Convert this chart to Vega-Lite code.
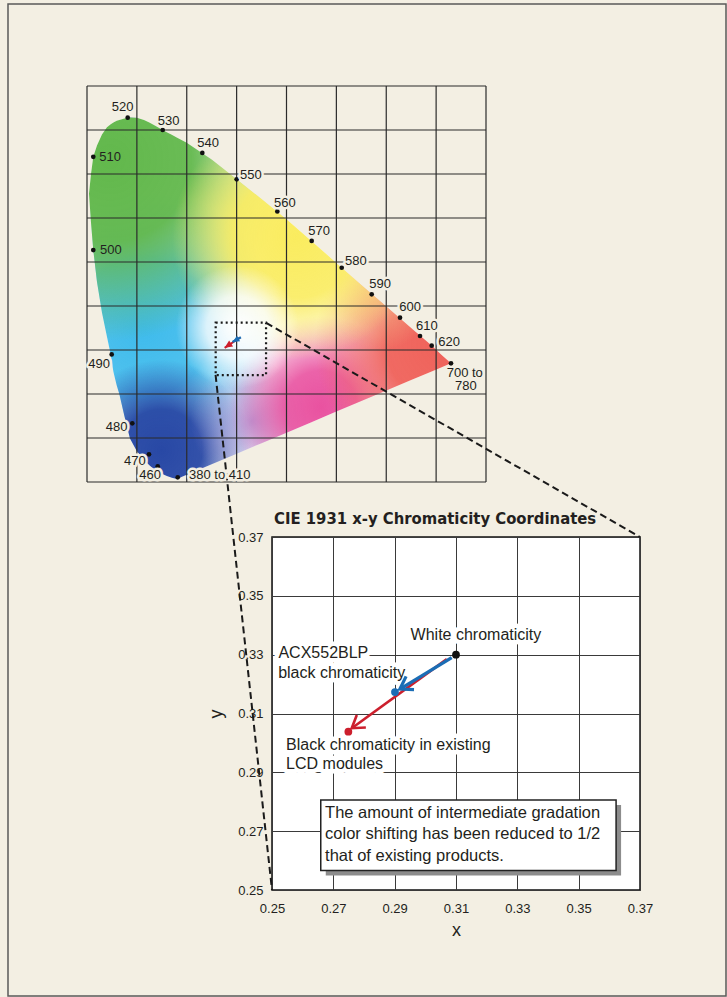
{
  "$schema": "https://vega.github.io/schema/vega-lite/v6.json",
  "width": 368,
  "height": 353,
  "autosize": {"type": "none"},
  "padding": {"left": 272, "top": 537, "right": 87, "bottom": 107},
  "background": "#f3efe3",
  "config": {
    "view": {"fill": "#ffffff", "stroke": "#111111", "strokeWidth": 1.5},
    "font": "Liberation Sans",
    "text": {"font": "Liberation Sans"}
  },
  "datasets": {
    "frame": [{"x": -0.1584, "x2": 1.2812, "y": -1.1682, "y2": 1.0864}],
    "locus": [
      {"x": 0.004, "lo": 0.655, "hi": 0.655},
      {"x": 0.008, "lo": 0.59, "hi": 0.7},
      {"x": 0.0126, "lo": 0.527, "hi": 0.739},
      {"x": 0.02, "lo": 0.455, "hi": 0.765},
      {"x": 0.03, "lo": 0.385, "hi": 0.79},
      {"x": 0.04, "lo": 0.33, "hi": 0.806},
      {"x": 0.0475, "lo": 0.29, "hi": 0.813},
      {"x": 0.053, "lo": 0.25, "hi": 0.817},
      {"x": 0.0595, "lo": 0.22, "hi": 0.821},
      {"x": 0.0648, "lo": 0.2, "hi": 0.823},
      {"x": 0.075, "lo": 0.15, "hi": 0.826},
      {"x": 0.0862, "lo": 0.099, "hi": 0.829},
      {"x": 0.1, "lo": 0.07, "hi": 0.828},
      {"x": 0.1143, "lo": 0.05, "hi": 0.823},
      {"x": 0.125, "lo": 0.038, "hi": 0.817},
      {"x": 0.136, "lo": 0.027, "hi": 0.81},
      {"x": 0.15, "lo": 0.019, "hi": 0.801},
      {"x": 0.16, "lo": 0.0136, "hi": 0.795},
      {"x": 0.17, "lo": 0.0095, "hi": 0.789},
      {"x": 0.18, "lo": 0.007, "hi": 0.783},
      {"x": 0.2, "lo": 0.0166, "hi": 0.771},
      {"x": 0.25, "lo": 0.0405, "hi": 0.733},
      {"x": 0.3, "lo": 0.0644, "hi": 0.688},
      {"x": 0.35, "lo": 0.0883, "hi": 0.643},
      {"x": 0.4, "lo": 0.1122, "hi": 0.597},
      {"x": 0.45, "lo": 0.136, "hi": 0.548},
      {"x": 0.5, "lo": 0.16, "hi": 0.498},
      {"x": 0.55, "lo": 0.184, "hi": 0.448},
      {"x": 0.6, "lo": 0.2078, "hi": 0.399},
      {"x": 0.65, "lo": 0.2317, "hi": 0.35},
      {"x": 0.6911, "lo": 0.2513, "hi": 0.31},
      {"x": 0.71, "lo": 0.2603, "hi": 0.29},
      {"x": 0.7298, "lo": 0.2698, "hi": 0.2698}
    ],
    "gridX": [{"gx": 0}, {"gx": 0.1}, {"gx": 0.2}, {"gx": 0.3}, {"gx": 0.4}, {"gx": 0.5}, {"gx": 0.6}, {"gx": 0.7}, {"gx": 0.8}],
    "gridY": [{"gy": 0}, {"gy": 0.1}, {"gy": 0.2}, {"gy": 0.3}, {"gy": 0.4}, {"gy": 0.5}, {"gy": 0.6}, {"gy": 0.7}, {"gy": 0.8}, {"gy": 0.9}],
    "dots": [
      {"nm": "520", "x": 0.0816, "y": 0.828},
      {"nm": "530", "x": 0.1518, "y": 0.8},
      {"nm": "540", "x": 0.2312, "y": 0.748},
      {"nm": "550", "x": 0.3001, "y": 0.688},
      {"nm": "560", "x": 0.3816, "y": 0.615},
      {"nm": "570", "x": 0.4505, "y": 0.548},
      {"nm": "580", "x": 0.5107, "y": 0.487},
      {"nm": "590", "x": 0.5708, "y": 0.4266},
      {"nm": "600", "x": 0.6276, "y": 0.3734},
      {"nm": "610", "x": 0.6677, "y": 0.3318},
      {"nm": "620", "x": 0.6911, "y": 0.3098},
      {"nm": "700", "x": 0.7298, "y": 0.2698},
      {"nm": "510", "x": 0.0126, "y": 0.739},
      {"nm": "500", "x": 0.0126, "y": 0.527},
      {"nm": "490", "x": 0.0495, "y": 0.29},
      {"nm": "480", "x": 0.0908, "y": 0.1334},
      {"nm": "470", "x": 0.1243, "y": 0.063},
      {"nm": "460", "x": 0.1418, "y": 0.0357},
      {"nm": "380", "x": 0.1819, "y": 0.0107}
    ],
    "labels": [
      {"text": "520", "lx": 0.0495, "ly": 0.8516},
      {"text": "530", "lx": 0.1418, "ly": 0.8211},
      {"text": "540", "lx": 0.2212, "ly": 0.7698},
      {"text": "510", "lx": 0.0247, "ly": 0.738},
      {"text": "550", "lx": 0.3068, "ly": 0.6984},
      {"text": "560", "lx": 0.3749, "ly": 0.6348},
      {"text": "570", "lx": 0.4437, "ly": 0.5711},
      {"text": "580", "lx": 0.5173, "ly": 0.503},
      {"text": "590", "lx": 0.566, "ly": 0.4493},
      {"text": "600", "lx": 0.6262, "ly": 0.397},
      {"text": "610", "lx": 0.6596, "ly": 0.3552},
      {"text": "620", "lx": 0.7044, "ly": 0.3189},
      {"text": "500", "lx": 0.0261, "ly": 0.5273},
      {"text": "490", "lx": 0.0026, "ly": 0.2682},
      {"text": "480", "lx": 0.0375, "ly": 0.1257},
      {"text": "470", "lx": 0.0742, "ly": 0.0484},
      {"text": "460", "lx": 0.1049, "ly": 0.0152},
      {"text": "380 to 410", "lx": 0.2045, "ly": 0.0152},
      {"text": "700 to", "lx": 0.7212, "ly": 0.248},
      {"text": "780", "lx": 0.7378, "ly": 0.2172}
    ],
    "zoomBox": [{"x": 0.258, "x2": 0.359, "y": 0.243, "y2": 0.362}],
    "arrows": [
      {"series": "existing", "x": 0.307, "y": 0.3285, "x2": 0.276, "y2": 0.305},
      {"series": "ACX552BLP", "x": 0.3086, "y": 0.329, "x2": 0.2917, "y2": 0.3183}
    ],
    "connectors": [
      {"x": 0.2316, "y": 0.4251, "x2": 0.25, "y2": 0.25},
      {"x": 0.2481, "y": 0.4428, "x2": 0.37, "y2": 0.37}
    ],
    "points": [
      {"name": "white", "x": 0.31, "y": 0.33},
      {"name": "ACX552BLP", "x": 0.2901, "y": 0.3173},
      {"name": "existing", "x": 0.2749, "y": 0.3038}
    ],
    "notes": [
      {"t": "White chromaticity", "x": 0.2952, "y": 0.3367},
      {"t": "ACX552BLP", "x": 0.2521, "y": 0.3305},
      {"t": "black chromaticity", "x": 0.252, "y": 0.3237},
      {"t": "Black chromaticity in existing", "x": 0.2546, "y": 0.2993},
      {"t": "LCD modules", "x": 0.2546, "y": 0.2928}
    ],
    "noteBox": [{"x": 0.2659, "x2": 0.3622, "y": 0.2806, "y2": 0.2566}],
    "boxText": [
      {"t": "The amount of intermediate gradation", "x": 0.2673, "y": 0.2761},
      {"t": "color shifting has been reduced to 1/2", "x": 0.2673, "y": 0.2689},
      {"t": "that of existing products.", "x": 0.2673, "y": 0.2616}
    ],
    "titleText": [{"t": "CIE 1931 x-y Chromaticity Coordinates"}]
  },
  "resolve": {"scale": {"x": "independent", "y": "independent"}},
  "layer": [
    {
      "layer": [
        {
          "data": {"name": "frame"},
          "mark": {"type": "rect", "filled": false, "stroke": "#5a5a5a", "strokeWidth": 1.5},
          "encoding": {
            "x": {"field": "x", "type": "quantitative", "scale": {"domain": [0, 0.8], "range": [-185, 214], "nice": false, "zero": false}, "axis": null},
            "x2": {"field": "x2"},
            "y": {"field": "y", "type": "quantitative", "scale": {"domain": [0, 0.9], "range": [-55, -451], "nice": false, "zero": false}, "axis": null},
            "y2": {"field": "y2"}
          }
        },
        {
          "data": {"name": "locus"},
          "mark": {"type": "area", "fill": "#ffffff"},
          "encoding": {"x": {"field": "x", "type": "quantitative"}, "y": {"field": "lo", "type": "quantitative"}, "y2": {"field": "hi"}}
        },
        {
          "data": {"name": "locus"},
          "mark": {"type": "area", "fill": {"gradient": "radial", "x1": 0.15, "y1": 0.58, "r1": 0, "x2": 0.15, "y2": 0.58, "r2": 0.38, "stops": [{"offset": 0, "color": "rgba(62,187,236,1)"}, {"offset": 0.5, "color": "rgba(62,187,236,0.9)"}, {"offset": 1, "color": "rgba(62,187,236,0)"}]}},
          "encoding": {"x": {"field": "x", "type": "quantitative"}, "y": {"field": "lo", "type": "quantitative"}, "y2": {"field": "hi"}}
        },
        {
          "data": {"name": "locus"},
          "mark": {"type": "area", "fill": {"gradient": "radial", "x1": 0.058, "y1": 0.119, "r1": 0, "x2": 0.058, "y2": 0.119, "r2": 0.5, "stops": [{"offset": 0, "color": "rgba(98,184,76,1)"}, {"offset": 0.45, "color": "rgba(98,184,76,0.95)"}, {"offset": 1, "color": "rgba(98,184,76,0)"}]}},
          "encoding": {"x": {"field": "x", "type": "quantitative"}, "y": {"field": "lo", "type": "quantitative"}, "y2": {"field": "hi"}}
        },
        {
          "data": {"name": "locus"},
          "mark": {"type": "area", "fill": {"gradient": "radial", "x1": 0.2, "y1": 0.92, "r1": 0, "x2": 0.2, "y2": 0.92, "r2": 0.25, "stops": [{"offset": 0, "color": "rgba(40,72,165,1)"}, {"offset": 0.45, "color": "rgba(40,72,165,0.95)"}, {"offset": 1, "color": "rgba(40,72,165,0)"}]}},
          "encoding": {"x": {"field": "x", "type": "quantitative"}, "y": {"field": "lo", "type": "quantitative"}, "y2": {"field": "hi"}}
        },
        {
          "data": {"name": "locus"},
          "mark": {"type": "area", "fill": {"gradient": "radial", "x1": 0.45, "y1": 0.84, "r1": 0, "x2": 0.45, "y2": 0.84, "r2": 0.17, "stops": [{"offset": 0, "color": "rgba(160,150,215,0.85)"}, {"offset": 1, "color": "rgba(160,150,215,0)"}]}},
          "encoding": {"x": {"field": "x", "type": "quantitative"}, "y": {"field": "lo", "type": "quantitative"}, "y2": {"field": "hi"}}
        },
        {
          "data": {"name": "locus"},
          "mark": {"type": "area", "fill": {"gradient": "radial", "x1": 0.64, "y1": 0.8, "r1": 0, "x2": 0.64, "y2": 0.8, "r2": 0.25, "stops": [{"offset": 0, "color": "rgba(233,82,160,1)"}, {"offset": 0.4, "color": "rgba(233,82,160,0.9)"}, {"offset": 1, "color": "rgba(233,82,160,0)"}]}},
          "encoding": {"x": {"field": "x", "type": "quantitative"}, "y": {"field": "lo", "type": "quantitative"}, "y2": {"field": "hi"}}
        },
        {
          "data": {"name": "locus"},
          "mark": {"type": "area", "fill": {"gradient": "radial", "x1": 0.983, "y1": 0.63, "r1": 0, "x2": 0.983, "y2": 0.63, "r2": 0.36, "stops": [{"offset": 0, "color": "rgba(239,98,90,1)"}, {"offset": 0.45, "color": "rgba(239,98,90,0.95)"}, {"offset": 1, "color": "rgba(239,98,90,0)"}]}},
          "encoding": {"x": {"field": "x", "type": "quantitative"}, "y": {"field": "lo", "type": "quantitative"}, "y2": {"field": "hi"}}
        },
        {
          "data": {"name": "locus"},
          "mark": {"type": "area", "fill": {"gradient": "radial", "x1": 0.804, "y1": 0.505, "r1": 0, "x2": 0.804, "y2": 0.505, "r2": 0.14, "stops": [{"offset": 0, "color": "rgba(246,178,132,0.8)"}, {"offset": 1, "color": "rgba(246,178,132,0)"}]}},
          "encoding": {"x": {"field": "x", "type": "quantitative"}, "y": {"field": "lo", "type": "quantitative"}, "y2": {"field": "hi"}}
        },
        {
          "data": {"name": "locus"},
          "mark": {"type": "area", "fill": {"gradient": "radial", "x1": 0.57, "y1": 0.33, "r1": 0, "x2": 0.57, "y2": 0.33, "r2": 0.34, "stops": [{"offset": 0, "color": "rgba(250,236,95,1)"}, {"offset": 0.5, "color": "rgba(250,236,95,0.9)"}, {"offset": 1, "color": "rgba(250,236,95,0)"}]}},
          "encoding": {"x": {"field": "x", "type": "quantitative"}, "y": {"field": "lo", "type": "quantitative"}, "y2": {"field": "hi"}}
        },
        {
          "data": {"name": "locus"},
          "mark": {"type": "area", "fill": {"gradient": "radial", "x1": 0.41, "y1": 0.58, "r1": 0, "x2": 0.41, "y2": 0.58, "r2": 0.17, "stops": [{"offset": 0, "color": "rgba(255,255,255,1)"}, {"offset": 0.5, "color": "rgba(255,255,255,0.8)"}, {"offset": 1, "color": "rgba(255,255,255,0)"}]}},
          "encoding": {"x": {"field": "x", "type": "quantitative"}, "y": {"field": "lo", "type": "quantitative"}, "y2": {"field": "hi"}}
        },
        {
          "data": {"name": "gridX"},
          "mark": {"type": "rule", "color": "#2b2b2b", "strokeWidth": 1.2},
          "encoding": {"x": {"field": "gx", "type": "quantitative"}, "y": {"datum": 0, "type": "quantitative"}, "y2": {"datum": 0.9}}
        },
        {
          "data": {"name": "gridY"},
          "mark": {"type": "rule", "color": "#2b2b2b", "strokeWidth": 1.2},
          "encoding": {"y": {"field": "gy", "type": "quantitative"}, "x": {"datum": 0, "type": "quantitative"}, "x2": {"datum": 0.8}}
        },
        {
          "data": {"name": "dots"},
          "mark": {"type": "point", "filled": true, "color": "#111111", "size": 22, "opacity": 1},
          "encoding": {"x": {"field": "x", "type": "quantitative"}, "y": {"field": "y", "type": "quantitative"}}
        },
        {
          "data": {"name": "zoomBox"},
          "mark": {"type": "rect", "filled": false, "stroke": "#1a1a1a", "strokeWidth": 2.2, "strokeDash": [2, 3]},
          "encoding": {"x": {"field": "x", "type": "quantitative"}, "x2": {"field": "x2"}, "y": {"field": "y", "type": "quantitative"}, "y2": {"field": "y2"}}
        },
        {
          "data": {"name": "arrows"},
          "transform": [{"filter": "datum.series === 'existing'"}],
          "mark": {"type": "rule", "color": "#cc1f2d", "strokeWidth": 2},
          "encoding": {"x": {"field": "x", "type": "quantitative"}, "y": {"field": "y", "type": "quantitative"}, "x2": {"field": "x2"}, "y2": {"field": "y2"}}
        },
        {
          "data": {"name": "arrows"},
          "transform": [{"filter": "datum.series === 'existing'"}],
          "mark": {"type": "point", "shape": "M0,0L0.5,1.1L-0.5,1.1Z", "filled": true, "color": "#cc1f2d", "size": 200, "angle": 236, "opacity": 1},
          "encoding": {"x": {"field": "x2", "type": "quantitative"}, "y": {"field": "y2", "type": "quantitative"}}
        },
        {
          "data": {"name": "arrows"},
          "transform": [{"filter": "datum.series === 'ACX552BLP'"}],
          "mark": {"type": "rule", "color": "#1b6db5", "strokeWidth": 2.2},
          "encoding": {"x": {"field": "x", "type": "quantitative"}, "y": {"field": "y", "type": "quantitative"}, "x2": {"field": "x2"}, "y2": {"field": "y2"}}
        },
        {
          "data": {"name": "arrows"},
          "transform": [{"filter": "datum.series === 'ACX552BLP'"}],
          "mark": {"type": "point", "shape": "M0,0L0.5,1.1L-0.5,1.1Z", "filled": true, "color": "#1b6db5", "size": 160, "angle": 241, "opacity": 1},
          "encoding": {"x": {"field": "x2", "type": "quantitative"}, "y": {"field": "y2", "type": "quantitative"}}
        }
      ]
    },
    {
      "layer": [
        {
          "data": {"name": "connectors"},
          "mark": {"type": "rule", "color": "#1a1a1a", "strokeWidth": 2, "strokeDash": [7, 4]},
          "encoding": {
            "x": {"field": "x", "type": "quantitative", "scale": {"domain": [0.25, 0.37], "nice": false, "zero": false}, "axis": null},
            "y": {"field": "y", "type": "quantitative", "scale": {"domain": [0.25, 0.37], "nice": false, "zero": false}, "axis": null},
            "x2": {"field": "x2"},
            "y2": {"field": "y2"}
          }
        }
      ]
    },
    {
      "layer": [
        {
          "data": {"name": "labels"},
          "transform": [{"filter": "datum.text !== '510' && datum.text !== '500' && datum.text !== '700 to' && datum.text !== '780'"}],
          "mark": {"type": "text", "align": "left", "baseline": "middle", "fontSize": 13, "fill": "#f3efe3", "stroke": "#f3efe3", "strokeWidth": 5, "strokeJoin": "round"},
          "encoding": {
            "x": {"field": "lx", "type": "quantitative", "scale": {"domain": [0, 0.8], "range": [-185, 214], "nice": false, "zero": false}, "axis": null},
            "y": {"field": "ly", "type": "quantitative", "scale": {"domain": [0, 0.9], "range": [-55, -451], "nice": false, "zero": false}, "axis": null},
            "text": {"field": "text"}
          }
        },
        {
          "data": {"name": "labels"},
          "mark": {"type": "text", "align": "left", "baseline": "middle", "fontSize": 13, "fill": "#231f20"},
          "encoding": {
            "x": {"field": "lx", "type": "quantitative"},
            "y": {"field": "ly", "type": "quantitative"},
            "text": {"field": "text"}
          }
        }
      ]
    },
    {
      "layer": [
        {
          "data": {"name": "noteBox"},
          "mark": {"type": "rect", "fill": "#8c8c8c", "xOffset": 5, "x2Offset": 5, "yOffset": 5, "y2Offset": 5},
          "encoding": {
            "x": {"field": "x", "type": "quantitative", "scale": {"domain": [0.25, 0.37], "nice": false, "zero": false},
              "axis": {"orient": "bottom", "values": [0.25, 0.27, 0.29, 0.31, 0.33, 0.35, 0.37], "format": ".2f", "title": "x", "grid": true, "gridColor": "#3a3a3a", "gridWidth": 1, "domain": false, "ticks": false, "labelPadding": 12, "labelFontSize": 13, "labelColor": "#231f20", "labelFont": "Liberation Sans", "labelFlush": false, "labelOverlap": false, "titleFont": "Liberation Sans", "titleFontSize": 18, "titleFontWeight": "normal", "titleColor": "#231f20", "titlePadding": 6}},
            "x2": {"field": "x2"},
            "y": {"field": "y", "type": "quantitative", "scale": {"domain": [0.25, 0.37], "nice": false, "zero": false},
              "axis": {"orient": "left", "values": [0.25, 0.27, 0.29, 0.31, 0.33, 0.35, 0.37], "format": ".2f", "title": "y", "grid": true, "gridColor": "#3a3a3a", "gridWidth": 1, "domain": false, "ticks": false, "labelPadding": 9, "labelFontSize": 13, "labelColor": "#231f20", "labelFont": "Liberation Sans", "labelFlush": false, "labelOverlap": false, "titleFont": "Liberation Sans", "titleFontSize": 18, "titleFontWeight": "normal", "titleColor": "#231f20", "titlePadding": 12}},
            "y2": {"field": "y2"}
          }
        },
        {
          "data": {"name": "noteBox"},
          "mark": {"type": "rect", "fill": "#ffffff", "stroke": "#222222", "strokeWidth": 1.5},
          "encoding": {"x": {"field": "x", "type": "quantitative"}, "x2": {"field": "x2"}, "y": {"field": "y", "type": "quantitative"}, "y2": {"field": "y2"}}
        },
        {
          "data": {"name": "boxText"},
          "mark": {"type": "text", "align": "left", "baseline": "middle", "fontSize": 16.5, "fill": "#231f20"},
          "encoding": {"x": {"field": "x", "type": "quantitative"}, "y": {"field": "y", "type": "quantitative"}, "text": {"field": "t"}}
        },
        {
          "data": {"name": "notes"},
          "mark": {"type": "text", "align": "left", "baseline": "middle", "fontSize": 16, "fill": "#ffffff", "stroke": "#ffffff", "strokeWidth": 9, "strokeJoin": "round"},
          "encoding": {"x": {"field": "x", "type": "quantitative"}, "y": {"field": "y", "type": "quantitative"}, "text": {"field": "t"}}
        },
        {
          "data": {"name": "arrows"},
          "transform": [{"filter": "datum.series === 'existing'"}],
          "mark": {"type": "rule", "color": "#cc1f2d", "strokeWidth": 2.6},
          "encoding": {"x": {"field": "x", "type": "quantitative"}, "y": {"field": "y", "type": "quantitative"}, "x2": {"field": "x2"}, "y2": {"field": "y2"}}
        },
        {
          "data": {"name": "arrows"},
          "transform": [{"filter": "datum.series === 'existing'"}],
          "mark": {"type": "point", "shape": "M-0.545,0.839L0,0L0.545,0.839", "filled": false, "color": "#cc1f2d", "strokeWidth": 2.6, "size": 800, "angle": 234, "opacity": 1},
          "encoding": {"x": {"field": "x2", "type": "quantitative"}, "y": {"field": "y2", "type": "quantitative"}}
        },
        {
          "data": {"name": "arrows"},
          "transform": [{"filter": "datum.series === 'ACX552BLP'"}],
          "mark": {"type": "rule", "color": "#1b6db5", "strokeWidth": 3.4},
          "encoding": {"x": {"field": "x", "type": "quantitative"}, "y": {"field": "y", "type": "quantitative"}, "x2": {"field": "x2"}, "y2": {"field": "y2"}}
        },
        {
          "data": {"name": "arrows"},
          "transform": [{"filter": "datum.series === 'ACX552BLP'"}],
          "mark": {"type": "point", "shape": "M-0.545,0.839L0,0L0.545,0.839", "filled": false, "color": "#1b6db5", "strokeWidth": 3.2, "size": 800, "angle": 239, "opacity": 1},
          "encoding": {"x": {"field": "x2", "type": "quantitative"}, "y": {"field": "y2", "type": "quantitative"}}
        },
        {
          "data": {"name": "points"},
          "mark": {"type": "point", "filled": true, "size": 60, "opacity": 1},
          "encoding": {
            "x": {"field": "x", "type": "quantitative"},
            "y": {"field": "y", "type": "quantitative"},
            "color": {"field": "name", "type": "nominal", "scale": {"domain": ["white", "ACX552BLP", "existing"], "range": ["#111111", "#1b6db5", "#cc1f2d"]}, "legend": null}
          }
        },
        {
          "data": {"name": "notes"},
          "mark": {"type": "text", "align": "left", "baseline": "middle", "fontSize": 16, "fill": "#231f20"},
          "encoding": {"x": {"field": "x", "type": "quantitative"}, "y": {"field": "y", "type": "quantitative"}, "text": {"field": "t"}}
        },
        {
          "data": {"name": "titleText"},
          "mark": {"type": "text", "align": "left", "baseline": "alphabetic", "dx": 2, "dy": -13, "font": "DejaVu Sans Condensed, Liberation Sans Narrow, Roboto Condensed, Arial Narrow, Liberation Sans", "fontWeight": "bold", "fontSize": 16.5, "fill": "#231f20"},
          "encoding": {"x": {"datum": 0.25, "type": "quantitative"}, "y": {"datum": 0.37, "type": "quantitative"}, "text": {"field": "t"}}
        }
      ]
    }
  ]
}
